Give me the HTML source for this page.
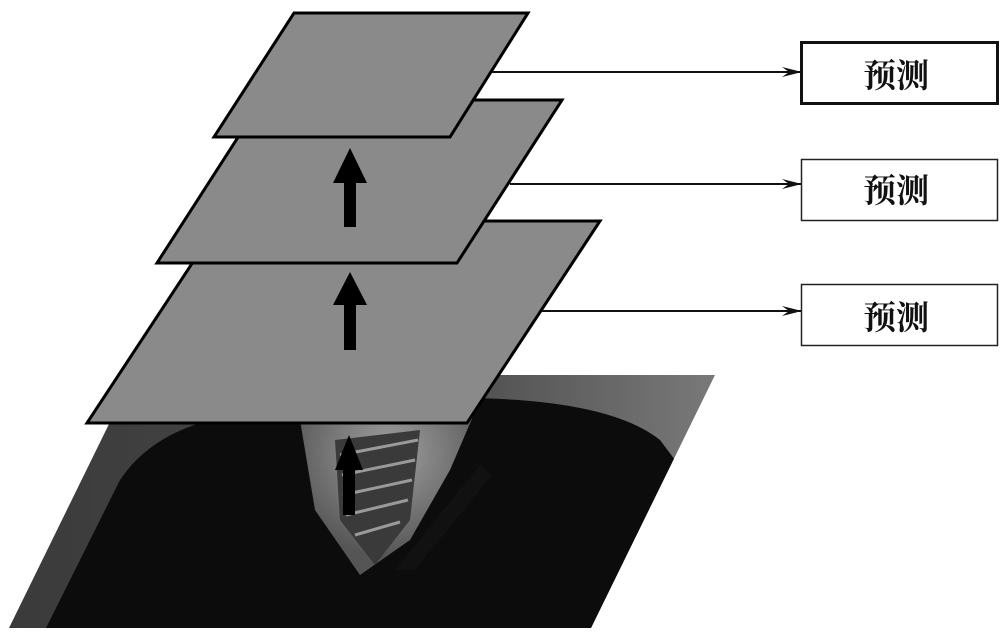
<!DOCTYPE html>
<html><head><meta charset="utf-8"><style>
html,body{margin:0;padding:0;background:#fff;}
svg{display:block;}
</style></head><body>
<svg width="1000" height="639" viewBox="0 0 1000 639" xmlns="http://www.w3.org/2000/svg">
<defs>
<clipPath id="ph"><polygon points="133,375 715,375 591,628 9,628"/></clipPath>
<linearGradient id="bg" x1="0" y1="0" x2="1" y2="0">
<stop offset="0" stop-color="#3a3a3a"/><stop offset="0.6" stop-color="#4a4a4a"/><stop offset="1" stop-color="#7a7a7a"/></linearGradient>
<radialGradient id="shirt" cx="0.5" cy="0.3" r="0.6">
<stop offset="0" stop-color="#a0a0a0"/><stop offset="1" stop-color="#555"/></radialGradient>
<marker id="ah" markerWidth="20" markerHeight="10" refX="19" refY="5" orient="auto" markerUnits="userSpaceOnUse">
<path d="M0,0 L20,5 L0,10 L7,5 Z" fill="#111"/></marker>
</defs>
<g clip-path="url(#ph)">
<rect x="0" y="375" width="720" height="260" fill="url(#bg)"/>
<path d="M40,640 L120,480 Q160,420 260,412 L330,405 L470,398 Q610,400 660,440 L690,480 L650,640 Z" fill="#0c0c0c"/>
<path d="M300,420 L480,400 L450,470 L410,540 L360,575 L315,510 Z" fill="url(#shirt)"/>
<path d="M335,440 L420,430 L410,520 L375,565 L340,520 Z" fill="#3a3a3a"/>
<g stroke="#9a9a9a" stroke-width="3">
<line x1="340" y1="455" x2="418" y2="440"/><line x1="342" y1="475" x2="415" y2="460"/>
<line x1="343" y1="495" x2="412" y2="480"/><line x1="346" y1="515" x2="408" y2="500"/>
<line x1="355" y1="535" x2="400" y2="522"/></g>
<path d="M395,570 L480,465 L492,475 L415,570 Z" fill="#111"/>
</g>
<polygon points="220,221 600,221 467,423 87,423" fill="#8a8a8a" stroke="#000" stroke-width="3"/>
<polygon points="262,100 562,100 457,263 157,263" fill="#8a8a8a" stroke="#000" stroke-width="3"/>
<polygon points="294,13 528,13 450,137 214,137" fill="#8a8a8a" stroke="#000" stroke-width="3"/>
<g fill="#000">
<polygon points="350,148 367,183 356,183 356,227 344,227 344,183 333,183"/>
<polygon points="350,272 367,305 356,305 356,350 344,350 344,305 333,305"/>
<polygon points="349,435 363,470 355,470 355,515 343,515 343,470 335,470"/>
</g>
<g stroke="#111" stroke-width="2" fill="none">
<line x1="492" y1="72" x2="801" y2="72" marker-end="url(#ah)"/>
<line x1="510" y1="184" x2="801" y2="184" marker-end="url(#ah)"/>
<line x1="542" y1="311" x2="801" y2="311" marker-end="url(#ah)"/>
</g>
<rect x="801.5" y="42.5" width="196" height="61" fill="#fff" stroke="#111" stroke-width="3"/>
<rect x="801.5" y="159.5" width="196" height="61" fill="#fff" stroke="#222" stroke-width="1.5"/>
<rect x="801.5" y="284.5" width="196" height="61" fill="#fff" stroke="#222" stroke-width="1.5"/>
<g font-family="'Liberation Serif','Noto Serif CJK SC',serif" font-size="33" font-weight="bold" fill="#111" text-anchor="middle">
<text x="896" y="87">预测</text>
<text x="896" y="202">预测</text>
<text x="896" y="329">预测</text>
</g>
</svg>
</body></html>
